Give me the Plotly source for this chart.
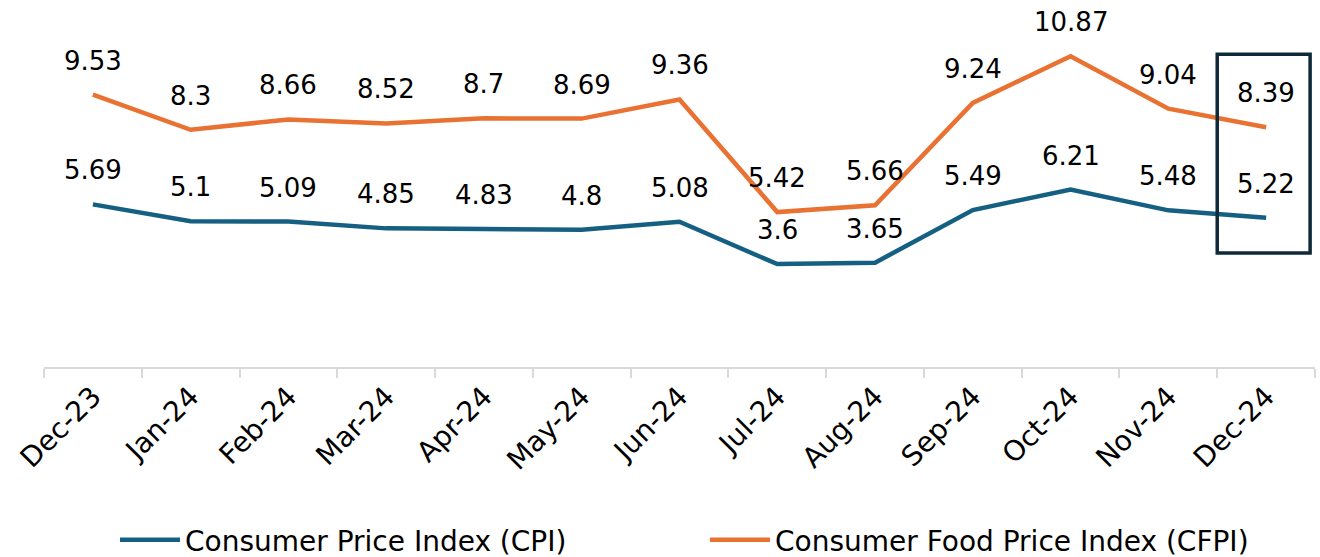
import plotly.graph_objects as go

months = ["Dec-23", "Jan-24", "Feb-24", "Mar-24", "Apr-24", "May-24", "Jun-24",
          "Jul-24", "Aug-24", "Sep-24", "Oct-24", "Nov-24", "Dec-24"]
cpi = [5.69, 5.1, 5.09, 4.85, 4.83, 4.8, 5.08, 3.6, 3.65, 5.49, 6.21, 5.48, 5.22]
cfpi = [9.53, 8.3, 8.66, 8.52, 8.7, 8.69, 9.36, 5.42, 5.66, 9.24, 10.87, 9.04, 8.39]

BLUE = "#156082"
ORANGE = "#E97132"
FONT = "DejaVu Sans"

fig = go.Figure()
fig.add_trace(go.Scatter(x=months, y=cpi, mode="lines", name="Consumer Price Index (CPI)",
                         line=dict(color=BLUE, width=4.5)))
fig.add_trace(go.Scatter(x=months, y=cfpi, mode="lines", name="Consumer Food Price Index (CFPI)",
                         line=dict(color=ORANGE, width=4.5)))

for series in (cpi, cfpi):
    for m, v in zip(months, series):
        fig.add_annotation(x=m, y=v, text=str(v), showarrow=False, yshift=34,
                           font=dict(size=26, color="#000000", family=FONT))

# highlight box around the latest month
fig.add_shape(type="rect", xref="x", yref="y", x0=11.5, x1=12.45, y0=3.99, y1=10.94,
              line=dict(color="#0E2A3A", width=3.5), fillcolor="rgba(0,0,0,0)")

fig.update_layout(
    width=1320, height=557,
    margin=dict(l=44, r=5, t=24, b=190),
    plot_bgcolor="white", paper_bgcolor="white",
    font=dict(family=FONT, size=26, color="#000000"),
    showlegend=True,
    legend=dict(orientation="h", x=(115 - 44) / 1271, xanchor="left", xref="paper",
                y=(557 - 540) / 557, yanchor="middle", yref="container",
                font=dict(size=28, family=FONT), entrywidth=515, traceorder="normal",
                itemwidth=60),
)
fig.update_xaxes(type="category", range=[-0.5, 12.5], showgrid=False,
                 showline=True, linecolor="#D9D9D9", linewidth=2,
                 ticks="outside", ticklen=9, tickcolor="#D9D9D9", tickwidth=2,
                 tickson="boundaries", tickangle=-45, automargin=False,
                 tickfont=dict(size=28, family=FONT))
fig.update_yaxes(range=[0, 12], visible=False, showgrid=False, zeroline=False)

fig.write_html("out.html", config={"displayModeBar": False},
               post_script="document.body.style.margin='0';")
